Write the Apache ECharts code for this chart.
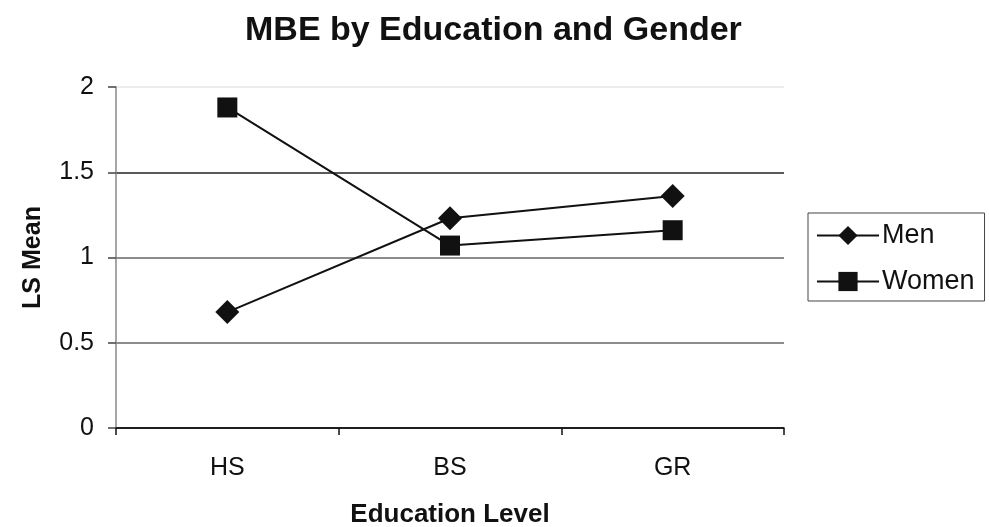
<!DOCTYPE html>
<html>
<head>
<meta charset="utf-8">
<script src="https://cdn.jsdelivr.net/npm/echarts@6/dist/echarts.min.js"></script>
<style>
html,body{margin:0;padding:0;background:#fff;}
#chart{width:989px;height:527px;}
</style>
</head>
<body>
<div id="chart"></div>
<script>
var categories = ['HS', 'BS', 'GR'];
var menValues = [0.68, 1.23, 1.36];
var womenValues = [1.88, 1.07, 1.16];
var yTicks = [0, 0.5, 1, 1.5, 2];

var FONT = '"Liberation Sans", Arial, Helvetica, sans-serif';
var chart = echarts.init(document.getElementById('chart'), null, {renderer: 'canvas'});
chart.setOption({
  animation: false,
  backgroundColor: '#fff',
  title: {
    text: 'MBE by Education and Gender',
    left: 240,
    top: 9,
    textStyle: {fontFamily: FONT, fontSize: 34, fontWeight: 'bold', color: '#111'}
  },
  legend: {
    orient: 'vertical',
    left: 808,
    top: 213,
    padding: [9, 10, 6, 8],
    itemGap: 19,
    itemWidth: 62,
    itemHeight: 24,
    borderColor: '#444',
    borderWidth: 1,
    textStyle: {fontFamily: FONT, fontSize: 27, color: '#111', padding: [0, 0, 0, -2]},
    data: ['Men', 'Women']
  },
  grid: {left: 116, right: 205, top: 87, bottom: 99, containLabel: false, outerBoundsMode: 'none'},
  xAxis: {
    type: 'category',
    data: categories,
    boundaryGap: true,
    name: 'Education Level',
    nameLocation: 'middle',
    nameGap: 74,
    nameTextStyle: {fontFamily: FONT, fontSize: 26, fontWeight: 'bold', color: '#111'},
    axisLine: {lineStyle: {color: '#111', width: 1.5}},
    axisTick: {show: true, length: 7, alignWithLabel: false, lineStyle: {color: '#111', width: 1.5}},
    axisLabel: {fontFamily: FONT, fontSize: 25, color: '#111', margin: 28}
  },
  yAxis: {
    type: 'value',
    min: yTicks[0],
    max: yTicks[yTicks.length - 1],
    interval: 0.5,
    name: 'LS Mean',
    nameLocation: 'middle',
    nameGap: 70,
    nameRotate: 90,
    nameTextStyle: {fontFamily: FONT, fontSize: 25, fontWeight: 'bold', color: '#111'},
    axisLine: {show: true, lineStyle: {color: '#888', width: 1.5}},
    axisTick: {show: true, length: 8, lineStyle: {color: '#444', width: 1.5}},
    axisLabel: {fontFamily: FONT, fontSize: 25, color: '#111', margin: 22},
    splitLine: {show: true, lineStyle: {color: ['#111', '#666', '#666', '#222', '#e6e6e6'], width: 1.5}}
  },
  series: [
    {
      name: 'Men',
      type: 'line',
      data: menValues,
      symbol: 'diamond',
      symbolSize: 24,
      lineStyle: {color: '#111', width: 2},
      itemStyle: {color: '#111'},
      z: 3
    },
    {
      name: 'Women',
      type: 'line',
      data: womenValues,
      symbol: 'rect',
      symbolSize: 20,
      lineStyle: {color: '#111', width: 2},
      itemStyle: {color: '#111'},
      z: 3
    }
  ]
});
</script>
</body>
</html>
